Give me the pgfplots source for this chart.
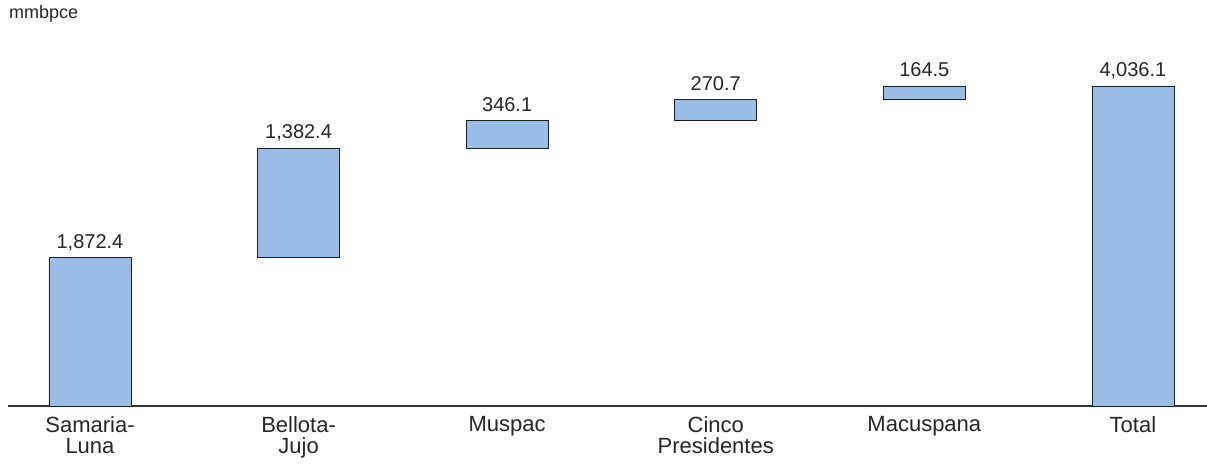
\documentclass[border=0pt]{standalone}
\usepackage{pgfplots}
\usepackage{pgfplotstable}
\pgfplotsset{compat=1.18}
\usepackage{fontspec}
\setmainfont{Liberation Sans}
\definecolor{barfill}{RGB}{153,189,229}
\definecolor{baredge}{RGB}{30,30,40}
\definecolor{axisline}{RGB}{50,50,50}
\pgfplotstableread{
x base val top label
0 0 1872.4 1872.4 1,872.4
1 1872.4 1382.4 3254.8 1,382.4
2 3254.8 346.1 3600.9 346.1
3 3600.9 270.7 3871.6 270.7
4 3871.6 164.5 4036.1 164.5
5 0 4036.1 4036.1 4,036.1
}\data
\pgfplotsset{common/.style={
  at={(8pt,57pt)}, anchor=south west,
  scale only axis, width=1199pt, height=386pt,
  xmin=-0.393, xmax=5.355, ymin=0, ymax=4868.5,
  clip=false}}
\begin{document}
\begin{tikzpicture}
\path[use as bounding box] (0,0) rectangle (1207pt,463pt);
\node[anchor=base west, inner sep=0pt, font=\fontsize{18}{20}\selectfont, text=black!85] at (9pt,444.5pt) {mmbpce};
\begin{axis}[
  common,
  ybar stacked, bar width=82pt,
  axis x line*=bottom, hide y axis,
  x axis line style={-, line width=1.5pt, color=axisline},
  xtick={0,1,2,3,4,5},
  xticklabels={{Samaria-\\Luna},{Bellota-\\Jujo},{Muspac},{Cinco\\Presidentes},{Macuspana},{Total}},
  xtick style={draw=none},
  xticklabel style={align=center, inner sep=0pt, yshift=-10pt, font=\fontsize{22}{21.5}\selectfont, text=black!85},
]
\addplot[draw=none, fill=none] table[x=x, y=base] {\data};
\addplot[fill=barfill, draw=baredge, line width=0.8pt] table[x=x, y=val] {\data};
\end{axis}
\begin{axis}[common, hide axis]
\addplot[draw=none, mark=none,
  nodes near coords, point meta=explicit symbolic,
  nodes near coords style={anchor=base, inner sep=0pt, yshift=9pt, font=\fontsize{20}{20}\selectfont, text=black!85}]
  table[x=x, y=top, meta=label] {\data};
\end{axis}
\end{tikzpicture}
\end{document}
